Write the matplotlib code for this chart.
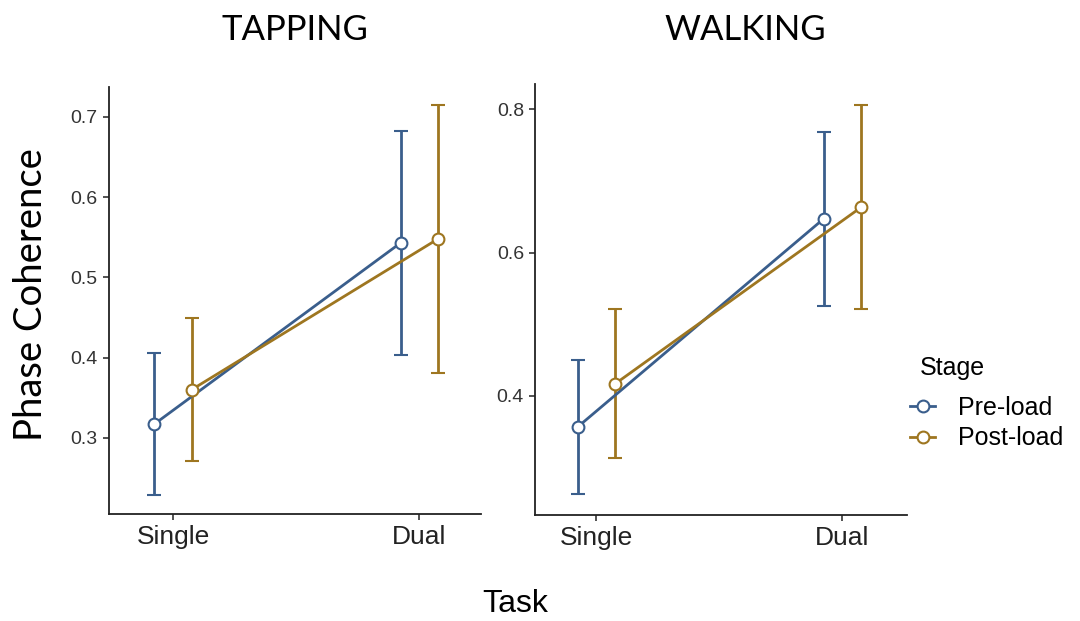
import matplotlib.pyplot as plt
from matplotlib.lines import Line2D

# task conditions on the x axis, and the two load stages
tasks = ["Single", "Dual"]
stages = ["Pre-load", "Post-load"]

# mean phase coherence and error bar half-widths, per task (Single, Dual)
tap_pre = [0.317, 0.543]
tap_pre_err = [0.089, 0.140]
tap_post = [0.360, 0.548]
tap_post_err = [0.089, 0.167]

walk_pre = [0.357, 0.647]
walk_pre_err = [0.093, 0.121]
walk_post = [0.417, 0.663]
walk_post_err = [0.104, 0.142]

colors = {"Pre-load": "#3A5E8C", "Post-load": "#9E7620"}
dodge = 0.076
tick_font = "Liberation Sans"
head_font = "Lato"
lw = 2.0

fig = plt.figure(figsize=(10.8, 6.21), dpi=100)
ax1 = fig.add_axes([0.1009, 0.1723, 0.3444, 0.6876])
ax2 = fig.add_axes([0.4954, 0.1707, 0.3444, 0.6940])


def draw_panel(ax, pre, pre_err, post, post_err, ylim, yticks):
    series = [(pre, pre_err, "Pre-load", -dodge), (post, post_err, "Post-load", dodge)]
    for vals, errs, name, off in series:
        xs = [i + off for i in range(len(tasks))]
        ax.errorbar(xs, vals, yerr=errs, color=colors[name], lw=lw,
                    elinewidth=lw, capsize=5, capthick=lw, marker="o",
                    markersize=8.5, markerfacecolor="white",
                    markeredgecolor=colors[name], markeredgewidth=1.5)
    ax.set_ylim(*ylim)
    ax.set_xticks(range(len(tasks)))
    ax.set_xticklabels(tasks, fontsize=19, family=tick_font, color="#222222")
    ax.set_yticks(yticks)
    ax.set_yticklabels([f"{t:g}" for t in yticks], fontsize=14,
                       family=tick_font, color="#333333")
    ax.tick_params(length=4, width=1.2, color="#333333", pad=4)
    for side in ["top", "right"]:
        ax.spines[side].set_visible(False)
    for side in ["left", "bottom"]:
        ax.spines[side].set_linewidth(1.3)
        ax.spines[side].set_color("#222222")


draw_panel(ax1, tap_pre, tap_pre_err, tap_post, tap_post_err,
           (0.2049, 0.7374), [0.3, 0.4, 0.5, 0.6, 0.7])
draw_panel(ax2, walk_pre, walk_pre_err, walk_post, walk_post_err,
           (0.2341, 0.8349), [0.4, 0.6, 0.8])
ax1.set_xlim(-0.26, 1.25)
ax2.set_xlim(-0.25, 1.263)

# panel headings
fig.text(0.273, 0.952, "TAPPING", ha="center", va="center", fontsize=25,
         family=head_font)
fig.text(0.690, 0.952, "WALKING", ha="center", va="center", fontsize=25,
         family=head_font)

fig.text(0.029, 0.525, "Phase Coherence", rotation=90, ha="center",
         va="center", fontsize=27.5, family=head_font)
fig.text(0.477, 0.027, "Task", ha="center", va="center", fontsize=23,
         family=tick_font)

# legend: title placed on its own, entries below
fig.text(0.852, 0.407, "Stage", ha="left", va="center", fontsize=18,
         family=tick_font)
handles = [Line2D([], [], color=colors[s], lw=lw, marker="o", markersize=8.5,
                  markerfacecolor="white", markeredgewidth=1.5)
           for s in stages]
fig.legend(handles, stages, loc="upper left", bbox_to_anchor=(0.843, 0.362),
           frameon=False, prop={"family": tick_font, "size": 18},
           handlelength=1.0, handletextpad=0.9, labelspacing=0.25,
           borderaxespad=0, borderpad=0)

fig.savefig("out.png", dpi=100)
